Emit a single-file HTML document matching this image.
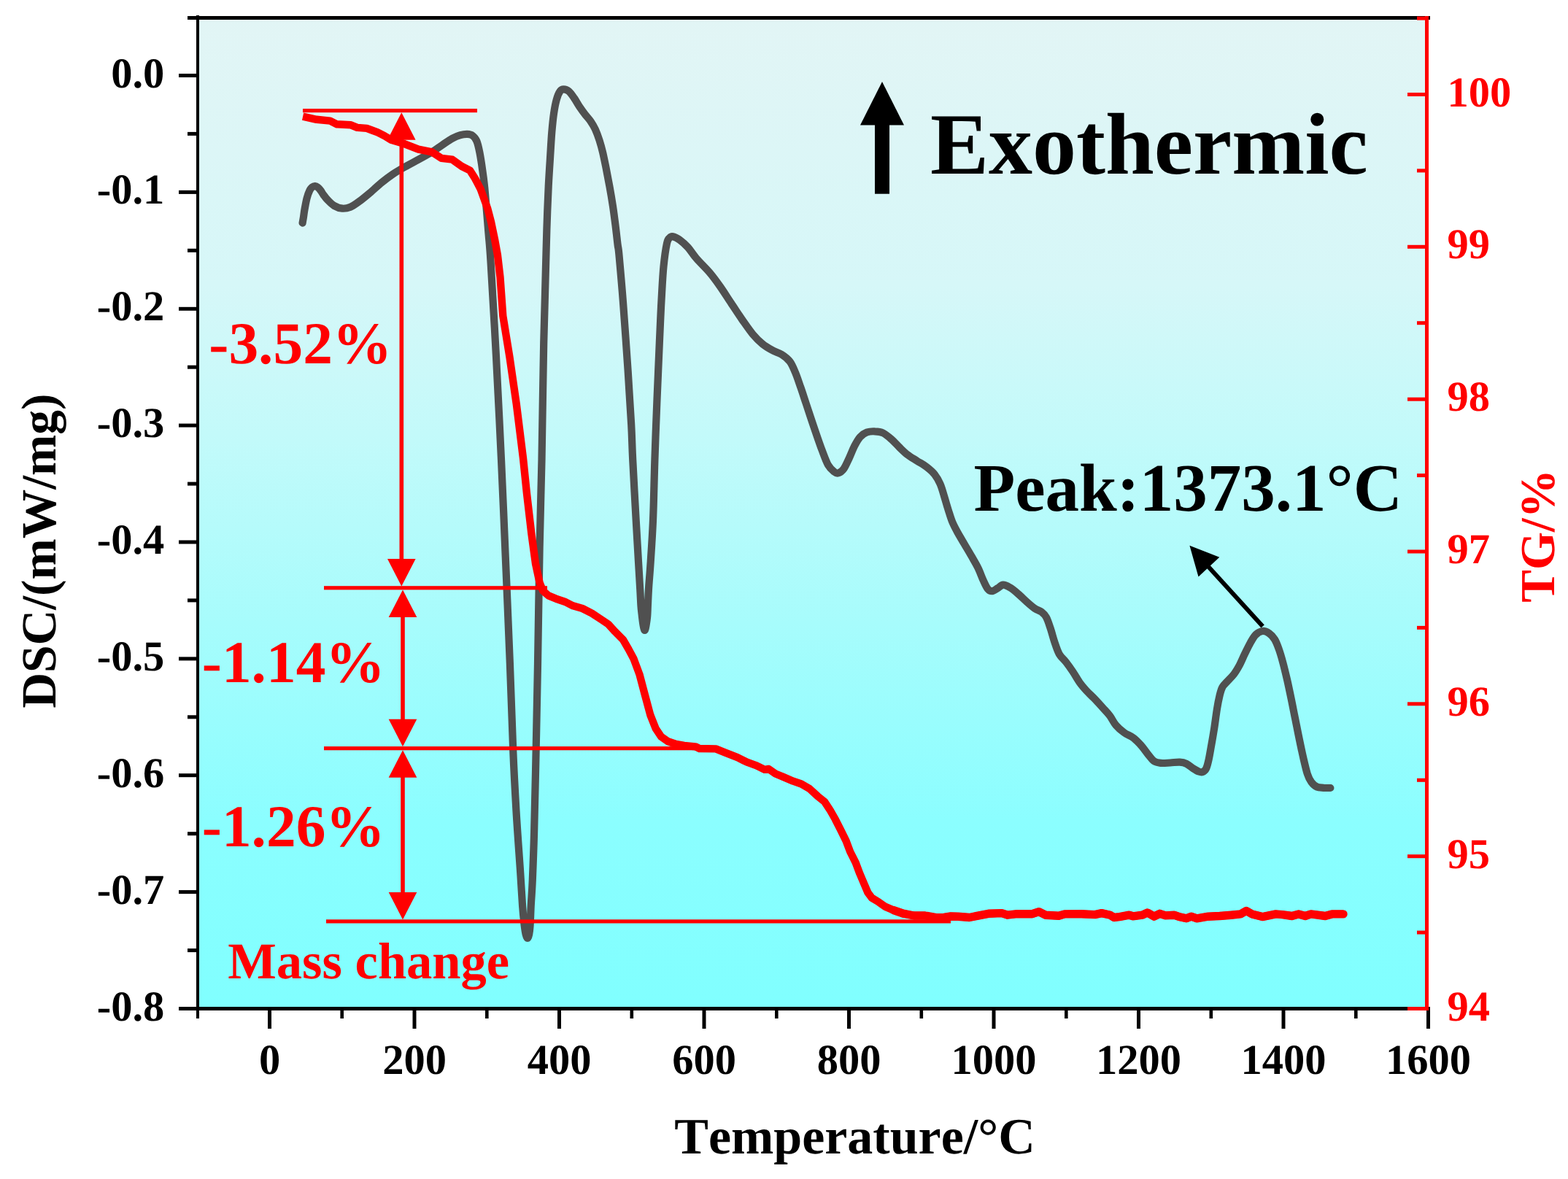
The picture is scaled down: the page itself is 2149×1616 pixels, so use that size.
<!DOCTYPE html>
<html lang="en"><head><meta charset="utf-8"><title>DSC / TG curves</title>
<style>
html,body{margin:0;padding:0;background:#fff;}
body{width:2149px;height:1616px;overflow:hidden;}
svg{display:block;}
text{font-family:"Liberation Serif","Times New Roman",Times,serif;font-weight:bold;font-kerning:none;font-variant-ligatures:none;text-rendering:geometricPrecision;}
.tk{font-size:58.5px;}
.r{fill:#ff0000;}
.k{fill:#000;}
</style></head><body>
<svg width="2149" height="1616" viewBox="0 0 2149 1616" role="img" aria-label="DSC and TG curves versus temperature">
<defs><linearGradient id="bg" x1="0" y1="0" x2="0" y2="1">
<stop offset="0" stop-color="#e2f5f5"/><stop offset="0.27" stop-color="#d6f7f8"/><stop offset="0.42" stop-color="#c3fafa"/><stop offset="0.61" stop-color="#a7fcfc"/><stop offset="0.81" stop-color="#8bfeff"/><stop offset="1" stop-color="#80ffff"/>
</linearGradient></defs>
<rect x="0" y="0" width="2149" height="1616" fill="#fff"/>
<rect x="271" y="24" width="1685" height="1359" fill="url(#bg)"/>
<g fill="none" stroke-linecap="round" stroke-linejoin="round">
<path d="M414.6 305.6C414.8 304.3 415.4 301.1 415.9 298.0C416.4 294.9 416.7 291.3 417.5 287.0C418.3 282.7 419.4 276.3 420.5 272.0C421.6 267.7 423.1 263.6 424.4 261.0C425.6 258.4 426.8 257.4 428.0 256.4C429.2 255.4 430.4 254.9 431.7 255.0C432.9 255.1 434.2 255.8 435.5 256.8C436.8 257.8 438.0 259.1 439.3 260.8C440.6 262.5 441.6 264.7 443.2 266.8C444.8 268.9 446.1 271.1 448.6 273.6C451.1 276.1 454.6 280.0 458.0 282.0C461.4 284.0 465.3 285.4 469.0 285.7C472.7 286.0 476.2 285.5 480.3 283.8C484.4 282.1 488.7 278.8 493.3 275.4C497.9 272.0 503.2 267.5 508.2 263.3C513.1 259.1 518.0 254.4 523.0 250.3C528.0 246.2 532.7 242.6 538.0 239.0C543.3 235.4 548.8 232.3 554.7 228.9C560.6 225.5 567.2 222.1 573.4 218.7C579.6 215.3 586.4 211.8 592.0 208.4C597.6 205.0 602.2 201.3 606.9 198.2C611.5 195.1 615.9 192.0 619.9 189.8C623.9 187.6 627.6 186.2 631.0 185.2C634.4 184.2 637.6 183.8 640.4 183.9C643.2 184.0 645.6 184.4 647.8 186.0C650.0 187.6 651.8 189.7 653.4 193.5C655.0 197.3 656.0 202.0 657.3 208.6C658.6 215.2 660.1 225.0 661.2 233.0C662.4 241.0 663.4 249.0 664.2 256.8C665.0 264.6 665.3 269.3 666.2 280.0C667.1 290.7 668.5 307.7 669.6 321.0C670.7 334.3 670.9 332.0 672.6 360.0C674.3 388.0 677.6 443.9 680.0 488.9C682.4 533.9 684.8 583.3 687.0 630.0C689.2 676.7 691.0 722.2 693.0 768.9C695.0 815.6 697.2 866.4 698.9 910.0C700.6 953.6 701.9 996.6 703.3 1030.3C704.7 1064.0 705.9 1084.4 707.5 1112.0C709.1 1139.6 711.8 1174.3 713.2 1196.0C714.6 1217.7 715.2 1230.0 716.1 1242.0C717.0 1254.0 717.9 1261.6 718.6 1268.0C719.4 1274.4 719.9 1277.5 720.6 1280.5C721.3 1283.5 722.2 1286.0 723.0 1286.0C723.8 1286.0 724.6 1283.5 725.2 1280.5C725.8 1277.5 726.2 1274.4 726.6 1268.0C727.0 1261.6 727.2 1252.3 727.7 1242.0C728.2 1231.7 729.1 1223.0 729.8 1206.0C730.5 1189.0 731.3 1169.3 732.1 1140.0C732.9 1110.7 733.8 1068.6 734.6 1030.3C735.4 992.0 736.2 956.7 737.0 910.0C737.8 863.3 738.7 797.0 739.6 750.3C740.5 703.6 741.6 676.7 742.5 630.0C743.4 583.3 744.2 517.0 745.2 470.3C746.2 423.6 747.6 378.1 748.4 350.0C749.2 321.9 749.2 317.8 749.8 302.0C750.3 286.2 751.0 269.4 751.7 255.4C752.4 241.4 753.1 230.6 753.9 218.2C754.7 205.8 755.4 191.6 756.3 181.0C757.2 170.4 758.0 162.3 759.1 154.9C760.2 147.5 761.4 141.3 762.8 136.3C764.2 131.3 765.9 127.4 767.5 125.1C769.1 122.8 770.5 122.4 772.5 122.4C774.5 122.4 777.2 123.1 779.6 125.1C782.0 127.1 784.5 130.9 787.0 134.5C789.5 138.1 792.0 142.9 794.5 146.6C797.0 150.3 799.4 153.6 801.9 156.8C804.4 160.1 807.1 162.7 809.4 166.1C811.7 169.5 813.9 173.0 815.9 177.3C817.9 181.7 819.8 186.9 821.5 192.2C823.2 197.5 824.6 202.4 826.1 208.9C827.6 215.4 829.2 223.4 830.8 231.2C832.3 238.9 833.8 246.7 835.4 255.4C837.0 264.1 838.7 274.1 840.1 283.4C841.5 292.7 842.7 302.6 843.8 311.3C844.9 320.0 845.8 329.1 846.6 335.5C847.4 341.9 847.3 336.8 848.5 350.0C849.7 363.2 852.0 388.2 854.0 414.5C856.0 440.8 858.7 479.6 860.6 507.5C862.5 535.4 864.1 561.6 865.2 582.0C866.3 602.4 866.1 608.2 867.2 630.0C868.3 651.8 870.4 689.7 871.7 713.0C873.0 736.3 874.1 754.3 875.0 770.0C875.9 785.7 876.6 797.1 877.2 807.0C877.8 816.9 878.0 823.4 878.4 829.6C878.8 835.9 879.4 840.0 879.9 844.5C880.4 849.0 880.9 853.2 881.5 856.5C882.1 859.8 882.9 864.0 883.6 864.0C884.3 864.0 885.0 859.8 885.6 856.5C886.2 853.2 886.8 849.0 887.2 844.5C887.6 840.0 887.6 835.9 887.9 829.6C888.2 823.4 888.4 816.9 889.0 807.0C889.6 797.1 890.7 785.7 891.7 770.0C892.7 754.3 894.0 736.3 895.0 713.0C896.0 689.7 896.5 658.0 897.4 630.0C898.3 602.0 899.5 571.4 900.6 544.7C901.7 518.0 902.8 492.2 903.8 470.0C904.8 447.8 905.5 429.2 906.5 411.7C907.5 394.2 908.2 378.0 909.5 365.0C910.8 352.0 912.6 340.0 914.0 333.5C915.4 327.0 916.3 327.6 917.7 326.0C919.1 324.4 920.0 323.7 922.3 324.2C924.6 324.7 928.2 326.4 931.6 328.9C935.0 331.4 939.0 334.8 942.8 339.0C946.6 343.2 949.3 348.2 954.3 354.0C959.2 359.8 967.0 367.0 972.5 373.5C978.0 380.0 982.3 386.0 987.2 393.0C992.1 400.0 997.0 407.9 1002.0 415.4C1007.0 422.8 1011.9 430.6 1016.9 437.7C1021.9 444.8 1027.1 452.6 1031.8 458.2C1036.5 463.8 1040.4 467.6 1044.8 471.2C1049.2 474.8 1053.5 477.3 1058.0 479.8C1062.5 482.3 1067.4 483.4 1071.5 486.0C1075.6 488.6 1079.3 491.3 1082.4 495.4C1085.5 499.4 1087.4 504.4 1089.9 510.3C1092.4 516.2 1094.8 523.7 1097.3 530.8C1099.8 537.9 1101.7 544.0 1104.7 553.0C1107.7 562.0 1111.8 574.5 1115.4 585.1C1119.0 595.7 1123.2 608.1 1126.5 616.8C1129.8 625.5 1132.1 632.3 1134.9 637.3C1137.7 642.3 1141.0 644.8 1143.3 646.6C1145.6 648.5 1146.7 649.0 1148.9 648.4C1151.1 647.8 1153.8 646.2 1156.3 642.8C1158.8 639.4 1161.3 633.3 1163.8 628.0C1166.3 622.7 1168.7 616.0 1171.2 611.2C1173.7 606.4 1175.9 602.2 1178.7 599.1C1181.5 596.0 1184.6 593.9 1188.0 592.6C1191.4 591.3 1195.4 591.1 1199.1 591.3C1202.8 591.4 1206.6 591.7 1210.3 593.5C1214.0 595.3 1217.8 598.6 1221.5 601.9C1225.2 605.1 1228.9 609.4 1232.6 613.0C1236.3 616.6 1239.8 620.2 1243.8 623.3C1247.8 626.4 1252.4 628.9 1256.8 631.7C1261.2 634.5 1265.9 636.9 1269.9 640.0C1273.9 643.1 1277.9 646.4 1281.0 650.3C1284.1 654.2 1286.3 658.3 1288.5 663.3C1290.7 668.2 1292.2 674.1 1294.0 680.0C1295.8 685.9 1297.7 692.8 1299.6 698.7C1301.5 704.6 1303.0 710.1 1305.2 715.4C1307.4 720.7 1309.9 725.2 1312.7 730.3C1315.5 735.4 1318.9 740.9 1322.0 746.2C1325.1 751.5 1328.2 756.6 1331.3 762.0C1334.4 767.4 1337.9 773.1 1340.6 778.7C1343.3 784.3 1345.5 790.9 1347.7 795.6C1349.9 800.4 1351.8 804.8 1353.8 807.2C1355.8 809.6 1357.8 810.4 1360.0 810.2C1362.2 810.1 1364.7 807.7 1367.2 806.3C1369.7 804.9 1372.0 801.8 1374.8 801.6C1377.6 801.4 1380.6 803.2 1384.0 805.2C1387.4 807.2 1391.4 810.5 1395.2 813.8C1399.0 817.0 1403.2 821.3 1407.0 824.7C1410.8 828.1 1414.8 831.7 1418.2 834.0C1421.6 836.3 1424.9 836.7 1427.5 838.7C1430.1 840.7 1432.0 842.4 1434.0 846.1C1436.0 849.8 1437.7 855.4 1439.6 861.0C1441.5 866.6 1443.2 873.7 1445.2 879.6C1447.2 885.5 1449.1 891.8 1451.7 896.4C1454.3 901.0 1457.9 903.5 1461.0 907.5C1464.1 911.5 1467.2 915.9 1470.3 920.5C1473.4 925.1 1476.5 931.0 1479.6 935.4C1482.7 939.8 1485.5 942.9 1488.9 946.6C1492.3 950.3 1496.4 953.9 1500.1 957.8C1503.8 961.7 1507.7 966.0 1511.2 969.9C1514.7 973.8 1518.0 977.0 1521.0 981.0C1524.0 985.0 1526.0 990.0 1529.3 993.8C1532.5 997.6 1536.5 1001.0 1540.5 1004.0C1544.5 1007.0 1549.5 1008.4 1553.5 1011.5C1557.5 1014.6 1561.3 1018.7 1564.7 1022.6C1568.1 1026.5 1571.2 1031.3 1574.0 1034.7C1576.8 1038.1 1578.6 1041.2 1581.4 1043.1C1584.2 1045.0 1587.0 1045.5 1590.7 1045.9C1594.4 1046.3 1599.5 1045.7 1603.8 1045.5C1608.1 1045.3 1613.1 1044.4 1616.8 1044.6C1620.5 1044.8 1623.0 1045.3 1626.1 1046.8C1629.2 1048.3 1632.6 1051.6 1635.4 1053.4C1638.2 1055.2 1640.6 1056.7 1642.8 1057.5C1645.0 1058.3 1646.7 1058.7 1648.4 1058.0C1650.1 1057.3 1651.7 1056.4 1653.1 1053.4C1654.5 1050.5 1655.6 1045.9 1656.8 1040.3C1658.0 1034.7 1659.2 1027.0 1660.5 1019.9C1661.8 1012.8 1663.0 1005.6 1664.3 997.5C1665.5 989.4 1666.8 979.0 1668.0 971.5C1669.2 964.0 1670.5 957.8 1671.7 952.8C1672.9 947.8 1673.7 944.8 1675.4 941.7C1677.1 938.6 1679.3 937.2 1681.9 934.2C1684.5 931.2 1688.4 927.7 1691.2 924.0C1694.0 920.3 1696.2 916.5 1698.7 911.9C1701.2 907.2 1703.6 901.2 1706.1 896.1C1708.6 891.0 1711.1 885.6 1713.6 881.2C1716.1 876.9 1718.2 872.7 1721.0 870.0C1723.8 867.3 1727.2 865.3 1730.3 865.0C1733.4 864.7 1736.8 866.3 1739.6 868.2C1742.4 870.1 1744.9 872.9 1747.1 876.5C1749.3 880.1 1750.8 884.3 1752.7 889.6C1754.6 894.9 1756.5 901.4 1758.3 908.2C1760.1 915.0 1761.9 922.4 1763.8 930.5C1765.7 938.6 1767.5 947.6 1769.4 956.6C1771.3 965.6 1773.1 975.2 1775.0 984.5C1776.9 993.8 1778.7 1003.4 1780.6 1012.4C1782.5 1021.4 1784.3 1030.4 1786.2 1038.5C1788.1 1046.6 1790.0 1055.2 1791.8 1060.8C1793.6 1066.4 1795.1 1069.0 1797.3 1072.0C1799.5 1075.0 1802.0 1077.2 1804.8 1078.5C1807.6 1079.8 1811.0 1079.5 1814.1 1079.8C1817.2 1080.0 1821.9 1080.0 1823.4 1080.0" stroke="#505050" stroke-width="10.2"/>
</g>
<g fill="#ff0000" stroke="none">
<rect x="415.0" y="149.0" width="239.0" height="5.2"/>
<rect x="444.0" y="803.2" width="306.0" height="5.2"/>
<rect x="444.0" y="1023.1" width="511.0" height="5.2"/>
<rect x="447.0" y="1260.3" width="856.0" height="5.2"/>
<rect x="547.5" y="190.7" width="5.6" height="576.4"/>
<path d="M550.3 154.2 L531.0 191.7 L569.6 191.7 Z"/>
<path d="M550.3 803.6 L531.0 766.1 L569.6 766.1 Z"/>
<rect x="549.2" y="845.1" width="5.6" height="141.6"/>
<path d="M552.0 808.6 L532.7 846.1 L571.3 846.1 Z"/>
<path d="M552.0 1023.2 L532.7 985.7 L571.3 985.7 Z"/>
<rect x="549.2" y="1064.7" width="5.6" height="159.2"/>
<path d="M552.0 1028.2 L532.7 1065.7 L571.3 1065.7 Z"/>
<path d="M552.0 1260.4 L532.7 1222.9 L571.3 1222.9 Z"/>
</g>
<path d="M415.1 159.7L433.8 163.8L452.4 165.6L461.7 170.3L480.3 171.2L489.6 174.9L502.6 175.9L517.5 181.4L526.8 186.1L536.1 191.7L554.7 197.3L573.4 204.7L592.0 208.4L605.0 216.8L619.9 218.7L632.9 228.0L644.1 233.6L651.0 244.5L658.6 259.0L664.0 274.0L668.3 286.0L673.0 304.0L678.0 328.0L682.0 350.0L685.5 380.0L689.3 433.0L698.4 489.0L707.8 554.0L717.0 628.0L721.9 675.8L728.4 731.7L734.0 772.6L739.6 798.7L744.2 809.9L751.7 816.4L762.8 821.0L774.0 824.7L785.2 830.3L798.2 834.0L811.2 840.6L822.4 848.0L833.6 855.5L842.9 865.7L854.0 876.9L861.5 889.9L868.5 903.0L876.4 924.2L883.8 952.1L891.3 980.0L898.7 998.6L906.2 1009.8L915.5 1016.3L926.6 1020.0L937.8 1021.8L953.0 1023.3L958.6 1026.0L981.0 1026.4L994.0 1031.6L1010.7 1038.2L1023.8 1044.7L1036.8 1049.3L1048.0 1054.9L1053.5 1054.0L1062.8 1060.5L1074.0 1065.1L1087.0 1070.7L1098.2 1074.5L1109.4 1081.0L1120.5 1091.2L1129.9 1098.7L1137.3 1109.8L1144.7 1122.8L1152.2 1137.7L1159.6 1152.6L1165.2 1167.5L1172.7 1182.4L1178.3 1197.3L1183.8 1210.3L1189.4 1223.4L1195.0 1230.8L1204.3 1236.4L1213.6 1242.9L1224.8 1247.6L1237.8 1252.2L1252.7 1255.0L1267.6 1255.0L1284.3 1257.8L1293.7 1257.4L1303.0 1256.0L1313.0 1256.2L1328.7 1257.5L1339.1 1255.3L1354.7 1252.3L1373.0 1251.6L1380.8 1254.2L1393.8 1252.7L1414.7 1252.7L1423.8 1249.7L1432.9 1254.2L1451.1 1255.3L1459.0 1252.9L1482.4 1252.7L1500.7 1253.6L1509.8 1251.6L1521.5 1254.2L1526.7 1257.5L1534.5 1256.6L1547.6 1254.2L1552.8 1255.8L1565.8 1254.2L1572.3 1251.0L1575.2 1252.3L1581.7 1256.2L1589.5 1252.3L1597.4 1254.9L1609.1 1254.2L1616.9 1256.8L1626.0 1258.8L1632.5 1256.2L1640.4 1258.8L1656.0 1256.2L1671.6 1255.5L1687.3 1254.2L1700.3 1252.9L1708.1 1248.4L1715.9 1252.9L1730.3 1256.6L1748.5 1252.9L1757.6 1253.6L1770.7 1255.5L1779.8 1252.9L1788.9 1255.5L1796.7 1252.9L1816.3 1255.5L1825.4 1252.9L1841.0 1252.9" fill="none" stroke="#ff0000" stroke-width="10.4" stroke-linejoin="round" stroke-linecap="butt"/>
<path d="M1224.8 1247.6L1237.8 1252.2L1252.7 1255.0L1267.6 1255.0L1284.3 1257.8L1293.7 1257.4L1303.0 1256.0L1313.0 1256.2L1328.7 1257.5L1339.1 1255.3L1354.7 1252.3L1373.0 1251.6L1380.8 1254.2L1393.8 1252.7L1414.7 1252.7L1423.8 1249.7L1432.9 1254.2L1451.1 1255.3L1459.0 1252.9L1482.4 1252.7L1500.7 1253.6L1509.8 1251.6L1521.5 1254.2L1526.7 1257.5L1534.5 1256.6L1547.6 1254.2L1552.8 1255.8L1565.8 1254.2L1572.3 1251.0L1575.2 1252.3L1581.7 1256.2L1589.5 1252.3L1597.4 1254.9L1609.1 1254.2L1616.9 1256.8L1626.0 1258.8L1632.5 1256.2L1640.4 1258.8L1656.0 1256.2L1671.6 1255.5L1687.3 1254.2L1700.3 1252.9L1708.1 1248.4L1715.9 1252.9L1730.3 1256.6L1748.5 1252.9L1757.6 1253.6L1770.7 1255.5L1779.8 1252.9L1788.9 1255.5L1796.7 1252.9L1816.3 1255.5L1825.4 1252.9L1841.0 1252.9" fill="none" stroke="#ff0000" stroke-width="11.4" stroke-linejoin="round" stroke-linecap="round"/>
<g fill="#000" stroke="none">
<path d="M1730.6 858.6 L1655 775.5" stroke="#000" stroke-width="6" fill="none"/>
<path d="M1630.4 747.8 L1671.3 763.8 L1642.5 790.6 Z"/>
<rect x="1199" y="170" width="20" height="95.7"/>
<path d="M1209 112 L1179 171.5 L1239 171.5 Z"/>
</g>
<g fill="#000" stroke="none">
<rect x="269" y="21" width="4" height="1375"/>
<rect x="257" y="22" width="1703" height="5"/>
<rect x="245" y="1380" width="1715" height="5"/>
<rect x="245" y="101.0" width="25" height="5"/>
<rect x="245" y="260.9" width="25" height="5"/>
<rect x="245" y="420.8" width="25" height="5"/>
<rect x="245" y="580.6" width="25" height="5"/>
<rect x="245" y="740.5" width="25" height="5"/>
<rect x="245" y="900.4" width="25" height="5"/>
<rect x="245" y="1060.2" width="25" height="5"/>
<rect x="245" y="1220.1" width="25" height="5"/>
<rect x="257" y="180.9" width="13" height="5"/>
<rect x="257" y="340.8" width="13" height="5"/>
<rect x="257" y="500.7" width="13" height="5"/>
<rect x="257" y="660.6" width="13" height="5"/>
<rect x="257" y="820.4" width="13" height="5"/>
<rect x="257" y="980.3" width="13" height="5"/>
<rect x="257" y="1140.2" width="13" height="5"/>
<rect x="257" y="1300.1" width="13" height="5"/>
<rect x="367.0" y="1380" width="5" height="30"/>
<rect x="565.5" y="1380" width="5" height="30"/>
<rect x="764.0" y="1380" width="5" height="30"/>
<rect x="962.5" y="1380" width="5" height="30"/>
<rect x="1161.0" y="1380" width="5" height="30"/>
<rect x="1359.5" y="1380" width="5" height="30"/>
<rect x="1558.0" y="1380" width="5" height="30"/>
<rect x="1756.5" y="1380" width="5" height="30"/>
<rect x="1955.0" y="1380" width="5" height="30"/>
<rect x="466.4" y="1380" width="4.6" height="16"/>
<rect x="665.0" y="1380" width="4.6" height="16"/>
<rect x="863.5" y="1380" width="4.6" height="16"/>
<rect x="1062.0" y="1380" width="4.6" height="16"/>
<rect x="1260.5" y="1380" width="4.6" height="16"/>
<rect x="1459.0" y="1380" width="4.6" height="16"/>
<rect x="1657.5" y="1380" width="4.6" height="16"/>
<rect x="1856.0" y="1380" width="4.6" height="16"/>
</g>
<g fill="#ff0000" stroke="none">
<rect x="1953" y="22" width="5" height="1363"/>
<rect x="1929" y="1380.0" width="26" height="5"/>
<rect x="1929" y="1171.2" width="26" height="5"/>
<rect x="1929" y="962.3" width="26" height="5"/>
<rect x="1929" y="753.5" width="26" height="5"/>
<rect x="1929" y="544.7" width="26" height="5"/>
<rect x="1929" y="335.8" width="26" height="5"/>
<rect x="1929" y="127.0" width="26" height="5"/>
<rect x="1942" y="1275.6" width="13" height="5"/>
<rect x="1942" y="1066.8" width="13" height="5"/>
<rect x="1942" y="857.9" width="13" height="5"/>
<rect x="1942" y="649.1" width="13" height="5"/>
<rect x="1942" y="440.2" width="13" height="5"/>
<rect x="1942" y="231.4" width="13" height="5"/>
<rect x="1942" y="22.6" width="13" height="5"/>
</g>
<g class="tk k" text-anchor="end">
<text x="225.3" y="119.5">0.0</text>
<text x="225.3" y="279.4">-0.1</text>
<text x="225.3" y="439.2">-0.2</text>
<text x="225.3" y="599.1">-0.3</text>
<text x="225.3" y="759.0">-0.4</text>
<text x="225.3" y="918.9">-0.5</text>
<text x="225.3" y="1078.8">-0.6</text>
<text x="225.3" y="1238.6">-0.7</text>
<text x="225.3" y="1398.5">-0.8</text>
</g>
<g class="tk k" text-anchor="middle">
<text x="369.5" y="1471.7">0</text>
<text x="568.0" y="1471.7">200</text>
<text x="766.5" y="1471.7">400</text>
<text x="965.0" y="1471.7">600</text>
<text x="1163.5" y="1471.7">800</text>
<text x="1362.0" y="1471.7">1000</text>
<text x="1560.5" y="1471.7">1200</text>
<text x="1759.0" y="1471.7">1400</text>
<text x="1957.5" y="1471.7">1600</text>
</g>
<g class="tk r" text-anchor="start">
<text x="1983.5" y="1398.5">94</text>
<text x="1983.5" y="1189.7">95</text>
<text x="1983.5" y="980.8">96</text>
<text x="1983.5" y="772.0">97</text>
<text x="1983.5" y="563.2">98</text>
<text x="1983.5" y="354.3">99</text>
<text x="1983.5" y="145.5">100</text>
</g>
<text class="k" x="1171.5" y="1581" text-anchor="middle" font-size="70">Temperature/°C</text>
<text class="k" transform="translate(75.7 755.2) rotate(-90)" text-anchor="middle" font-size="67.5">DSC/(mW/mg)</text>
<text class="r" transform="translate(2130.3 734.5) rotate(-90)" text-anchor="middle" font-size="67">TG/%</text>
<text class="k" x="1275" y="238" font-size="120">Exothermic</text>
<text class="k" x="1334.5" y="700" font-size="93">Peak:1373.1°C</text>
<text class="r" x="286.3" y="497.5" font-size="81.4">-3.52%</text>
<text class="r" x="276.8" y="935" font-size="81.4">-1.14%</text>
<text class="r" x="276.8" y="1159.6" font-size="81.4">-1.26%</text>
<text class="r" x="312.3" y="1341.3" font-size="70.5">Mass change</text>
</svg></body></html>
